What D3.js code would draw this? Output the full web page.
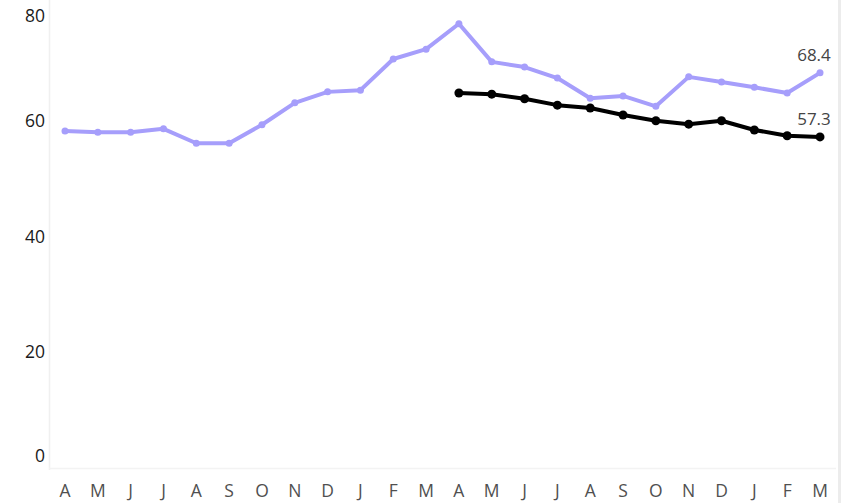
<!DOCTYPE html>
<html><head><meta charset="utf-8">
<script src="https://cdn.jsdelivr.net/npm/d3@7"></script>
<style>body{margin:0;background:#fff;}svg{display:block;font-family:"Open Sans",sans-serif;}</style>
</head><body>
<svg id="c" width="841" height="503"></svg>
<script>
const months = ["A","M","J","J","A","S","O","N","D","J","F","M","A","M","J","J","A","S","O","N","D","J","F","M"];
const purpleValues = [58.3,58.1,58.1,58.7,56.2,56.2,59.4,63.2,65.1,65.4,70.8,72.5,76.9,70.3,69.4,67.5,64.0,64.4,62.6,67.7,66.8,65.9,64.9,68.4];
const blackStart = 12;
const blackValues = [64.9,64.7,63.9,62.8,62.3,61.1,60.1,59.5,60.1,58.5,57.5,57.3];
const yTicks = [0,20,40,60,80];

const svg = d3.select("#c");
const W = 841, H = 503;
const x = d3.scalePoint().domain(d3.range(months.length)).range([65, 820]);
const y = d3.scaleLinear().domain([0, 80]).range([467.5, 5.9]);

// borders
svg.append("rect").attr("x", 838).attr("y", 0).attr("width", 3).attr("height", H).attr("fill", "#ececec");
svg.append("line").attr("x1", 49.5).attr("x2", 49.5).attr("y1", 0).attr("y2", 470).attr("stroke", "#f0f0f0").attr("stroke-width", 1.5);
svg.append("line").attr("x1", 49).attr("x2", 836).attr("y1", 468.5).attr("y2", 468.5).attr("stroke", "#f3f3f3").attr("stroke-width", 1.5);

// y labels
svg.append("g").selectAll("text").data(yTicks).join("text")
  .attr("x", 45).attr("text-anchor", "end")
  .attr("y", d => Math.min(Math.max(y(d), 16), 456))
  .attr("dy", "0.35em")
  .attr("font-size", 17.5).attr("fill", "#1a1a1a")
  .text(d => d);

// x labels
svg.append("g").selectAll("text").data(months).join("text")
  .attr("x", (d, i) => x(i)).attr("y", 491).attr("dy", "0.35em")
  .attr("text-anchor", "middle").attr("font-size", 17.5).attr("fill", "#505050")
  .text(d => d);

const line = d3.line().x(d => x(d.i)).y(d => y(d.v));
const pData = purpleValues.map((v, i) => ({i, v}));
const bData = blackValues.map((v, k) => ({i: k + blackStart, v}));

svg.append("path").datum(pData).attr("d", line).attr("fill", "none")
  .attr("stroke", "#a69efb").attr("stroke-width", 4).attr("stroke-linejoin", "round");
svg.append("g").selectAll("circle").data(pData).join("circle")
  .attr("cx", d => x(d.i)).attr("cy", d => y(d.v)).attr("r", 3.5).attr("fill", "#a69efb");

svg.append("path").datum(bData).attr("d", line).attr("fill", "none")
  .attr("stroke", "#000").attr("stroke-width", 4).attr("stroke-linejoin", "round");
svg.append("g").selectAll("circle").data(bData).join("circle")
  .attr("cx", d => x(d.i)).attr("cy", d => y(d.v)).attr("r", 4.5).attr("fill", "#000");

// end labels
const lastP = pData[pData.length - 1], lastB = bData[bData.length - 1];
[lastP, lastB].forEach(d => {
  svg.append("text").attr("x", x(d.i) - 6).attr("y", y(d.v) - 18).attr("dy", "0.35em")
    .attr("text-anchor", "middle").attr("font-size", 17).attr("fill", "#444")
    .text(d.v.toFixed(1));
});
</script>
</body></html>
